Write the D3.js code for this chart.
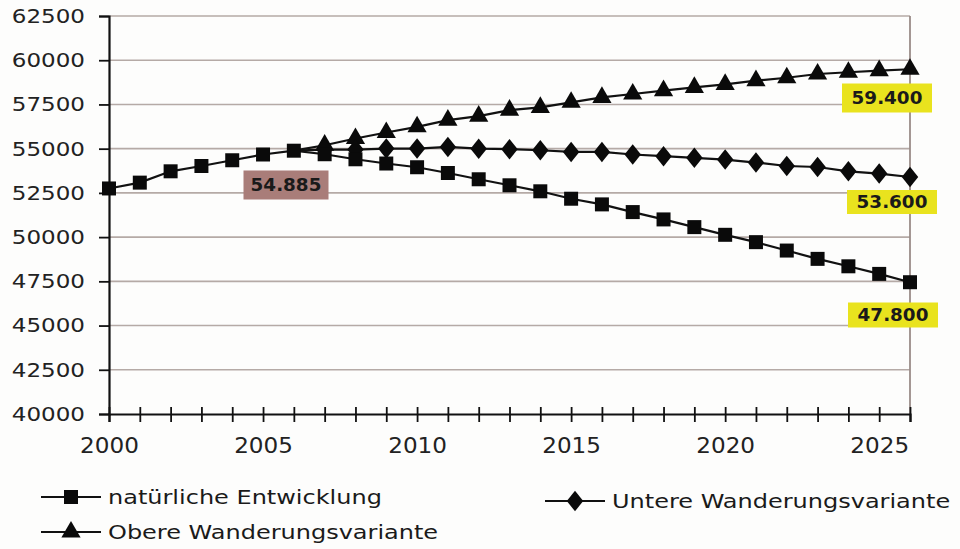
<!DOCTYPE html>
<html><head><meta charset="utf-8">
<script src="https://cdn.jsdelivr.net/npm/d3@7"></script>
<style>body{margin:0;background:#fdfdfc}svg{display:block}</style>
</head><body>
<svg id="c" width="960" height="549"></svg>
<script>
const years = d3.range(2000, 2027);
const yTicks = [40000,42500,45000,47500,50000,52500,55000,57500,60000,62500];
const xLabelYears = [2000,2005,2010,2015,2020,2025];
const natuerlich = [52750,53080,53720,54020,54345,54670,54885,54685,54400,54160,53950,53625,53270,52930,52590,52170,51850,51415,51000,50565,50130,49715,49240,48770,48350,47920,47450];
// the two migration variants branch off the natural series after 2006
const variantYears = d3.range(2006, 2027);
const untere = [54885,54950,54950,55005,55005,55100,55000,54970,54910,54815,54815,54670,54575,54480,54385,54215,54020,53965,53720,53590,53400];
const obere = [54885,55195,55575,55915,56235,56615,56840,57180,57335,57620,57900,58090,58280,58465,58635,58845,59010,59220,59320,59410,59490];
const seriesNames = ["natürliche Entwicklung","Untere Wanderungsvariante","Obere Wanderungsvariante"];
const endLabels = ["47.800","53.600","59.400"];
const peakLabel = "54.885";

const svg = d3.select("#c");
const x = d3.scaleLinear().domain([2000,2026]).range([109,910]);
const y = d3.scaleLinear().domain([40000,62500]).range([414,16]);
const font = "'DejaVu Sans', Verdana, sans-serif";

// gridlines
svg.append("g").selectAll("line").data(yTicks.filter(v=>v>40000)).join("line")
  .attr("x1",109).attr("x2",910).attr("y1",d=>y(d)).attr("y2",d=>y(d))
  .attr("stroke","#b5aaa6").attr("stroke-width",1.6);
// right border
svg.append("line").attr("x1",910).attr("x2",910).attr("y1",y(62500)).attr("y2",y(40000))
  .attr("stroke","#9a8c88").attr("stroke-width",1.8);

// y axis
const ya = svg.append("g").attr("transform","translate(109,0)")
  .call(d3.axisLeft(y).tickValues(yTicks).tickSize(10).tickFormat(d3.format("d")));
ya.select(".domain").attr("stroke","#111").attr("stroke-width",2.2);
ya.selectAll(".tick line").attr("stroke","#111").attr("stroke-width",1.8);
ya.selectAll(".tick text").attr("font-family",font).attr("font-size",20).attr("fill","#222")
  .attr("x",0).attr("text-anchor","end").attr("transform","translate(-24,0) scale(1.15,1)");

// x axis
const xa = svg.append("g").attr("transform","translate(0,414)")
  .call(d3.axisBottom(x).tickValues(years).tickSize(8).tickFormat(d=>xLabelYears.includes(d)?d:""));
xa.select(".domain").attr("stroke","#111").attr("stroke-width",2.2);
xa.selectAll(".tick line").attr("stroke","#111").attr("stroke-width",1.8).attr("y1",-7).attr("y2",8);
xa.selectAll(".tick text").attr("font-family",font).attr("font-size",21).attr("fill","#222")
  .attr("y",0).attr("dy",0).attr("transform","translate(0,39) scale(1.1,1)");

// series
const syms = [d3.symbolSquare, d3.symbolDiamond, d3.symbolTriangle];
const symSize = [196, 150, 160];
const series = [
  {k:2, yrs:variantYears, vals:obere},
  {k:1, yrs:variantYears, vals:untere},
  {k:0, yrs:years, vals:natuerlich}
];
series.forEach(s=>{
  const line = d3.line().x((d,i)=>x(s.yrs[i])).y(d=>y(d));
  svg.append("path").datum(s.vals).attr("d",line).attr("fill","none").attr("stroke","#111").attr("stroke-width",2.2);
});
series.forEach(s=>{
  // variant markers at the shared branch point (2006) are hidden behind the square
  const pts = s.vals.map((v,i)=>({yr:s.yrs[i], v})).filter(p=>s.k===0 || p.yr>2006);
  svg.append("g").selectAll("path").data(pts).join("path")
    .attr("d",d3.symbol().type(syms[s.k]).size(symSize[s.k]))
    .attr("transform",p=>`translate(${x(p.yr)},${y(p.v)})${s.k===1?" scale(1.25,0.9)":""}`)
    .attr("fill","#0a0a0a");
});

// data labels
function tag(cx, cy, w, h, txt, bg){
  svg.append("rect").attr("x",cx-w/2).attr("y",cy-h/2).attr("width",w).attr("height",h).attr("fill",bg);
  svg.append("text").attr("x",0).attr("y",0).attr("dy","0.36em").attr("text-anchor","middle")
    .attr("transform",`translate(${cx},${cy}) scale(1.08,1)`)
    .attr("font-family",font).attr("font-weight","bold").attr("font-size",17).attr("fill","#1a1a1a")
    .text(txt);
}
tag(887, 98, 90, 29, endLabels[2], "#e9e31e");
tag(892, 202, 90, 24, endLabels[1], "#e9e31e");
tag(893, 315, 90, 25, endLabels[0], "#e9e31e");
tag(286, 185, 85, 29, peakLabel, "#a97d79");

// legend
const leg = [
  {k:0, x:41, y:497},
  {k:1, x:545, y:501},
  {k:2, x:41, y:532}
];
leg.forEach(l=>{
  const g = svg.append("g");
  g.append("line").attr("x1",l.x).attr("x2",l.x+60).attr("y1",l.y).attr("y2",l.y).attr("stroke","#111").attr("stroke-width",2.2);
  g.append("path").attr("d",d3.symbol().type(syms[l.k]).size(symSize[l.k]))
    .attr("transform",`translate(${l.x+30},${l.y})${l.k===1?" scale(1.25,0.9)":""}`).attr("fill","#0a0a0a");
  g.append("text").attr("x",0).attr("y",0).attr("dy","0.36em")
    .attr("transform",`translate(${l.x+67},${l.y}) scale(1.2,1)`)
    .attr("font-family",font).attr("font-size",20).attr("fill","#1a1a1a").text(seriesNames[l.k]);
});
</script>
</body></html>
